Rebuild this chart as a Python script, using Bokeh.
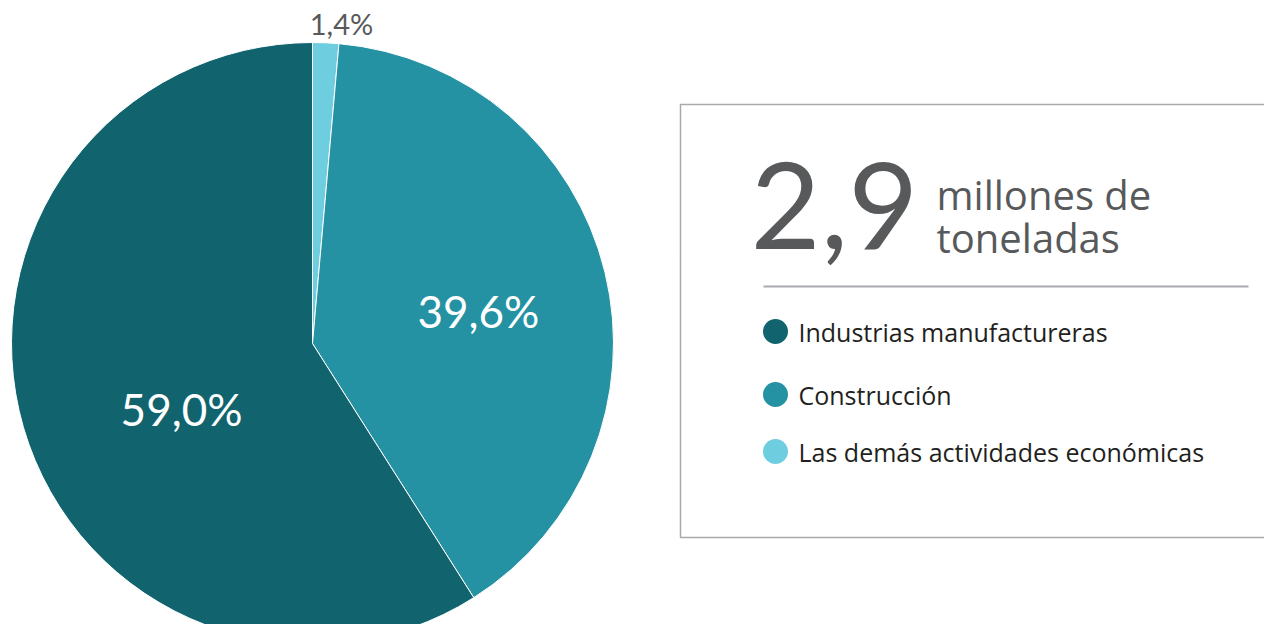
import math
from bokeh.plotting import figure
from bokeh.models import Range1d, ColumnDataSource
from bokeh.core.properties import value
from bokeh.embed import file_html
from bokeh.resources import INLINE

# ---- data ----
categories = ["Las demás actividades económicas", "Construcción", "Industrias manufactureras"]
shares = [1.4, 39.6, 59.0]
slice_colors = ["#6FCDE0", "#2492A3", "#11646E"]
total_label = "2,9"
total_unit = ["millones de", "toneladas"]
legend_order = ["Industrias manufactureras", "Construcción", "Las demás actividades económicas"]
legend_colors = ["#11646E", "#2492A3", "#6FCDE0"]

W, H = 1264, 624
p = figure(width=W, height=H, output_backend="svg", toolbar_location=None,
           x_range=Range1d(0, W), y_range=Range1d(640 - H, 640),
           min_border=0, outline_line_color=None)
p.axis.visible = False
p.grid.visible = False
p.background_fill_color = "white"

FONT = value("Lato")
OS = value("Open Sans")
cx, cy, R = 312, 297, 301

# wedges, clockwise from 12 o'clock
tot = sum(shares)
starts, ends, mids = [], [], []
cum = 0.0
for s in shares:
    a0 = math.pi / 2 - 2 * math.pi * cum / tot
    cum += s
    a1 = math.pi / 2 - 2 * math.pi * cum / tot
    starts.append(a0); ends.append(a1); mids.append((a0 + a1) / 2)
src = ColumnDataSource(dict(start=starts, end=ends, color=slice_colors))
p.wedge(x=cx, y=cy, radius=R, start_angle="start", end_angle="end", direction="clock",
        fill_color="color", line_color="white", line_width=1, source=src)

# slice labels
lab = [f"{s:.1f}".replace(".", ",") + "%" for s in shares]
rf = [1.06, 0.55, 0.55]
offs = [(15, 1), (5, -7), (28, -19)]
lab_col = ["#58595B", "white", "white"]
lab_size = ["29px", "44px", "44px"]
for i in range(3):
    lx = cx + rf[i] * R * math.cos(mids[i])
    ly = cy + rf[i] * R * math.sin(mids[i])
    p.text(x=[lx], y=[ly], text=[lab[i]], x_offset=offs[i][0], y_offset=-offs[i][1],
           text_align="center", text_baseline="middle", text_color=lab_col[i],
           text_font=FONT, text_font_size=lab_size[i])

# legend box
p.quad(left=[680], right=[1400], top=[640 - 104], bottom=[640 - 537],
       fill_color=None, line_color="#A7A9AC", line_width=1.5)
p.text(x=[750], y=[640 - 205], text=[total_label], text_align="left", text_baseline="middle",
       text_color="#58595B", text_font=FONT, text_font_size="121px")
p.text(x=[936], y=[640 - 194], text=[total_unit[0]], text_align="left", text_baseline="middle",
       text_color="#58595B", text_font=OS, text_font_size="40px")
p.text(x=[936], y=[640 - 237], text=[total_unit[1]], text_align="left", text_baseline="middle",
       text_color="#58595B", text_font=OS, text_font_size="40px")
p.segment(x0=[763], y0=[640 - 286], x1=[1248], y1=[640 - 286], line_color="#A7A9AC", line_width=2)

ly = [640 - 331, 640 - 394, 640 - 451]
p.scatter(x=[775] * 3, y=ly, size=25, marker="circle", fill_color=legend_colors, line_color=None)
p.text(x=[798] * 3, y=ly, text=legend_order, text_align="left", text_baseline="middle",
       text_color="#231F20", text_font=OS, text_font_size="25px")

open("out.html", "w").write(file_html(p, INLINE))
